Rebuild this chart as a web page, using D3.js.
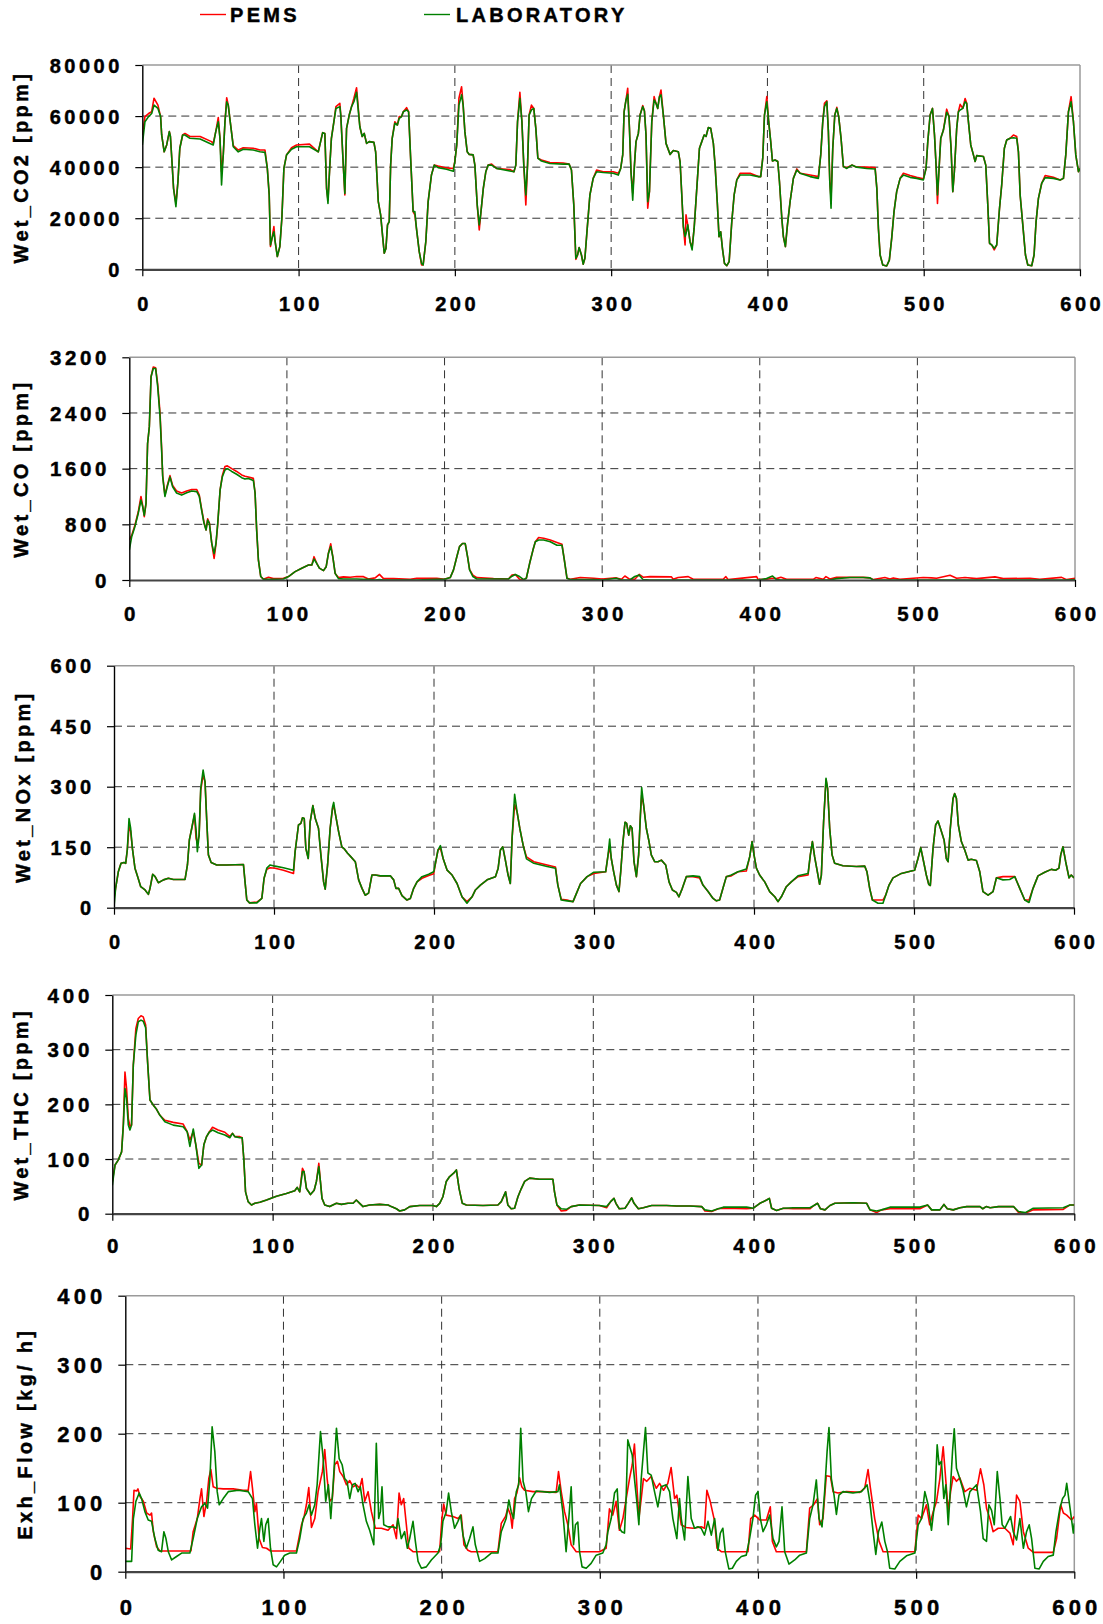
<!DOCTYPE html>
<html><head><meta charset="utf-8">
<script src="https://cdn.jsdelivr.net/npm/d3@7"></script>
<style>
body{margin:0;background:#fff}
svg{display:block}
text{font-family:"Liberation Sans",Arial,sans-serif;font-weight:bold;fill:#000;stroke:#000;stroke-width:0.45px}
</style>
</head><body>
<svg id="chart" width="1103" height="1624"></svg>
<script>
// ---------- DATA ----------
const seriesNames = ["PEMS", "LABORATORY"];
const xTicks = [0, 100, 200, 300, 400, 500, 600];
const co2Ticks = [0, 20000, 40000, 60000, 80000];
const coTicks = [0, 800, 1600, 2400, 3200];
const noxTicks = [0, 150, 300, 450, 600];
const thcTicks = [0, 100, 200, 300, 400];
const flowTicks = [0, 100, 200, 300, 400];

// [time s, PEMS, LABORATORY]
const co2Data = [[0,52600,48700],[1.7,59800,57800],[4,61000,59800],[6,61700,61000],[7.5,67000,64300],[10,64300,63000],[11.7,59800,59800],[12.4,52600,52600],[14,46000,46000],[15.6,48700,48700],[17.3,53900,53900],[18,52000,52000],[19,42000,42000],[20,31700,31700],[21.5,25800,24500],[22.8,34300,34300],[24,47400,47400],[25.8,52600,52600],[27.3,53200,52600],[30.5,52000,51300],[37,52000,51000],[44.3,50000,49000],[45.4,49300,48700],[47,53900,53900],[48.6,59400,57800],[49.7,51300,51300],[50.7,38200,33000],[51.8,44800,44800],[52.9,57800,57800],[54,67200,65600],[55,64300,64300],[56,59100,59100],[58.2,48400,48000],[61.4,46700,46000],[64.6,47600,47000],[71,47400,46700],[75.3,46700,46000],[78.5,46700,45800],[80,39500,39500],[81.2,29100,29100],[82,8900,9500],[83,12100,12100],[84.2,16700,14700],[85,10800,10800],[86.4,5000,5000],[88,8900,8900],[89.3,20000,20000],[90.6,39500,39500],[92.3,44800,44800],[95.5,47600,47000],[98.7,48700,48000],[107,49000,48000],[112.6,46000,46000],[115.4,53500,53500],[116.8,53200,53200],[117.9,31700,31700],[118.8,27100,25800],[120,40800,40800],[121,51300,51300],[122.6,57800,57800],[123.9,63700,63000],[126.4,65000,63700],[127,60400,60400],[128.6,40800,40800],[129.6,29100,29700],[130.7,55200,55200],[132.4,60400,60400],[133.9,63700,63700],[135.4,67000,65600],[137.1,71100,69300],[139.2,55800,55800],[140.7,52000,52000],[142,53200,53200],[143.5,49300,49300],[145.2,50000,50000],[148.2,49700,49700],[149.3,46000,46000],[151,26500,26500],[152.5,21300,21300],[153.7,13400,13400],[154.8,6300,6300],[155.9,8200,8200],[156.9,17400,17400],[158,18700,18700],[158.9,40800,40800],[159.9,51300,51300],[161.6,57800,57200],[163.2,56500,56500],[164.4,59800,59100],[165.9,59800,59800],[167,61700,61700],[169.1,63300,62400],[170.4,61700,61700],[171.6,44800,44800],[173.3,22600,22600],[174.4,21300,22600],[175.4,16100,16100],[177.2,6900,6900],[178.7,1700,2300],[179.7,1700,1700],[181.4,10800,10800],[182.9,26500,26500],[185,36900,36900],[186.8,40800,40800],[189.3,40400,39800],[194.7,39700,39200],[199,39500,38400],[200,42200,42200],[201.2,48700,48700],[202.6,67000,64300],[204.3,71500,68300],[205.3,64300,64300],[206.4,53900,53900],[207.9,46000,46000],[209.2,45000,45000],[211.7,44800,44800],[212.8,40800,40800],[214.3,25200,25200],[215.6,15400,17400],[216.5,21300,21300],[218.2,31700,31700],[219.8,38200,38200],[221.3,40800,40800],[223.5,41200,40800],[226.7,39500,39500],[235.2,39100,38500],[237.8,38200,38200],[239,40800,40800],[240.1,57800,57800],[241.6,69300,67000],[242.9,57800,57800],[244.1,40800,40800],[245.4,25200,29100],[246.5,40800,40800],[247.5,60400,60400],[249,64300,62400],[250.5,63000,63000],[251.8,55200,55200],[253.1,43500,43500],[255.4,42800,42400],[260.8,41800,41400],[269.3,41600,41200],[273.1,41200,41200],[274.6,38900,38900],[276.1,25200,25200],[277.4,3900,4300],[278.5,5600,5600],[279.5,8500,8500],[281,5600,5600],[282.1,2000,2000],[283.2,4300,4300],[284.7,16100,16100],[286.4,29100,29100],[288.5,35600,35600],[290.7,38900,38200],[294.9,38200,37900],[301.3,38200,37600],[304.6,37600,36900],[306.1,39500,39500],[307.4,44800,44800],[308.3,61700,61700],[309.5,66300,66300],[310.6,70900,68500],[311.7,55200,55200],[312.7,38200,38200],[313.8,29800,27100],[314.9,40800,40800],[315.9,50000,50000],[317.4,53200,53200],[318.5,60400,60400],[320.2,64100,63700],[321.3,62000,62000],[322.3,52600,52600],[323.4,23900,26500],[324.5,30400,30400],[326,57800,57800],[327.5,67600,66300],[328.7,65000,65000],[329.8,63000,63000],[330.9,67600,67600],[331.9,70200,68300],[333.4,60400,60400],[335.1,49300,49300],[337.7,45000,45000],[339.8,46500,46500],[343,46000,46000],[344.1,42200,42200],[345.2,29100,29100],[346.2,16700,16700],[347.3,9500,12800],[347.9,21300,14000],[349,17400,17400],[350.5,10800,10800],[351.8,8500,7600],[353.1,16100,16100],[354.8,31700,31700],[356.5,47400,47400],[358,50000,50000],[359.5,52600,52600],[360.7,52000,52000],[362.2,55500,55500],[363.7,55200,55200],[365.4,49300,49300],[366.5,40800,40800],[368,25200,25200],[369,12800,12800],[370.1,14700,14700],[371.2,8200,8200],[372.5,2300,2300],[374,1400,1400],[375.5,3000,3000],[377.2,18700,18700],[378.7,29100,29100],[380.4,35000,35000],[382.5,37600,36900],[388.9,37600,36900],[394.2,36300,36300],[395.7,36300,36300],[397,43500,43500],[398.1,60400,60400],[399.6,67600,65600],[400.8,57800,57800],[402.1,50000,50000],[403.2,42400,42400],[404.9,42800,42800],[406.6,42200,42200],[407.7,34300,34300],[409.2,20000,20000],[410.2,12800,12800],[411.5,8900,8900],[412.8,17400,17400],[414.5,26500,26500],[416.6,35600,35600],[418.8,39300,38900],[420.9,37600,37600],[427.3,36900,36300],[432.6,36300,35600],[434.1,44800,44800],[435.4,57800,57800],[436.5,65000,63700],[438,66000,65600],[439,53900,53900],[439.9,34300,34300],[440.7,27800,23900],[441.8,47400,47400],[443.1,60400,60400],[444.4,63400,63000],[445.6,59800,59800],[447.1,51300,51300],[448.6,40200,40200],[450.8,39800,39500],[454,40800,40800],[457.1,40000,40000],[463.6,40000,39500],[468.9,39800,39300],[470,31700,31700],[471,16100,16100],[472.1,5600,5600],[473.8,1700,1700],[476.3,1300,1300],[478,3600,3600],[479.5,12100,12100],[481,22600,22600],[482.7,30400,30400],[484.9,35600,35600],[487,37600,36900],[491.3,36700,36000],[495.5,36000,35600],[499.8,35400,35000],[501.5,39500,39500],[502.6,50000,50000],[504.1,60400,60400],[505.6,63000,63000],[506.9,52600,52600],[507.9,40800,40800],[508.8,25800,29100],[509.6,36900,36900],[510.9,51300,51300],[512.6,54500,54500],[514.7,62700,61500],[516.2,59800,59800],[517.5,47400,47400],[518.6,30400,30400],[519.6,38200,38200],[521.1,55200,55200],[522.2,61700,61700],[523.3,64600,62400],[525,63000,63000],[526.5,66900,65600],[527.5,65000,65000],[528.6,57800,57800],[530.1,48700,48700],[531.8,44800,44800],[532.9,42200,42200],[533.9,44500,44500],[538.2,44200,44200],[539.7,40800,40800],[541,25200,25200],[542.1,10200,10200],[543.6,9500,9500],[545.1,7600,8200],[546.7,9500,9500],[548.5,23900,23900],[549.9,33000,33000],[551.6,47400,47400],[553.1,50600,50600],[555.3,51300,51300],[557.4,52600,51500],[559.5,52000,51300],[560.6,46000,46000],[561.7,29100,29100],[563.4,17400,17400],[565.1,5600,5600],[566.6,1700,1700],[569.1,1400,1400],[570.6,5600,5600],[571.9,18700,18700],[573.4,27800,27800],[575.5,33700,33700],[577.7,36700,35900],[583,36000,35600],[587.3,35000,35000],[589.4,35600,35600],[590.9,44800,44800],[592.6,61700,61700],[594.3,67600,65600],[595.8,57800,57800],[597.3,44800,44800],[599,38200,38200],[600,39500,39500]];

const coData = [[0,575,430],[1.5,640,620],[3.6,790,770],[5.7,980,960],[7.4,1200,1150],[8.5,1070,1050],[9.5,910,930],[10.6,1100,1100],[11.6,1960,1960],[12.7,2200,2200],[13.8,2920,2920],[15.2,3060,3040],[16.7,3050,3040],[18,2820,2780],[19.5,2400,2350],[20.5,1900,1870],[21.2,1500,1480],[22.6,1220,1200],[24.1,1360,1340],[25.8,1500,1480],[27.5,1360,1340],[30,1280,1250],[33.2,1250,1220],[36.4,1280,1255],[39.6,1300,1280],[42.8,1300,1270],[44.4,1220,1200],[45.9,1020,1000],[47.4,830,815],[48.7,720,720],[49.7,880,860],[50.8,820,815],[52.3,530,530],[53.8,310,380],[55,520,530],[56.1,800,815],[57.6,1290,1290],[59,1500,1480],[60.7,1630,1580],[62.2,1640,1600],[65,1600,1560],[68.1,1560,1520],[71.3,1510,1470],[73.4,1490,1450],[75.6,1480,1460],[78.7,1460,1430],[79.8,1250,1250],[80.8,720,720],[81.9,290,290],[83.4,50,50],[85.1,10,10],[88.3,40,10],[91.4,20,10],[97.8,25,15],[101,50,50],[105.2,120,120],[109.4,170,170],[113.7,215,215],[115.8,215,215],[117.2,335,300],[118.9,240,240],[120.6,170,170],[123.2,135,135],[124.9,190,190],[126.3,380,380],[127.8,520,480],[129.1,335,335],[130.6,95,95],[132.7,35,20],[135.9,45,15],[140.1,40,15],[144.3,50,15],[148.6,48,10],[151.7,15,10],[156,30,0],[158.7,80,5],[161.3,20,0],[167.6,20,0],[178.2,10,0],[182.4,25,0],[195.1,25,10],[200,10,10],[203.6,35,35],[205.7,145,145],[207.8,335,335],[209.5,480,480],[211.4,525,525],[213.1,525,525],[214.6,335,335],[215.9,150,145],[218,70,50],[220.5,35,15],[231.1,20,15],[240.6,15,15],[242.8,70,55],[244.9,80,80],[247.6,10,50],[250.2,5,5],[251.9,25,25],[254,240,240],[256.1,430,430],[257.6,550,550],[259.7,610,575],[262.9,600,575],[267.1,575,550],[271.3,540,500],[274.5,515,500],[276,290,290],[277.7,25,25],[279.8,10,5],[286.1,35,5],[294.6,25,5],[300,15,0],[309,30,25],[312.3,10,0],[314.4,57,0],[317.6,10,0],[320.7,10,50],[323.5,80,70],[326,40,5],[330.3,48,0],[344,45,0],[345,10,0],[348.2,35,0],[354.6,48,0],[357.8,10,0],[376.8,10,0],[378.5,48,0],[380,5,0],[398,48,0],[399,5,0],[404.3,10,20],[408.1,25,57],[410.6,20,5],[413.4,38,0],[417,10,0],[433.9,10,0],[435.6,35,0],[440.3,10,0],[442,48,0],[444.5,15,0],[448.7,38,20],[457.2,38,35],[465.6,38,35],[469.9,30,30],[472,5,0],[479.4,35,0],[482.6,15,0],[484.7,30,0],[488.9,10,0],[503.7,35,0],[509,30,0],[512.2,25,0],[520.7,67,0],[524.9,25,0],[530.2,35,0],[537.6,20,0],[549.2,45,0],[554.5,20,0],[571.4,25,0],[577.7,10,0],[591.5,38,0],[594.7,5,0],[600,25,5]];

const noxData = [[0,23,2],[1,48,48],[2.7,89,89],[4.4,110,110],[6.3,112,112],[7.3,110,110],[8.3,143,143],[9.4,201,221],[10.4,190,197],[11.5,147,147],[13.1,98,98],[14.8,77,77],[16.7,52,52],[19.4,44,44],[21.5,33,33],[22.5,48,48],[24.2,83,83],[25.7,77,77],[27.7,62,62],[30.9,69,69],[34,73,73],[37.1,70,70],[44.4,70,70],[45.9,106,106],[47.1,168,168],[48.6,197,197],[50.3,230,234],[51.3,172,193],[52.1,160,139],[53.2,180,180],[54.2,290,296],[55.7,329,341],[56.9,312,312],[58,213,213],[59,131,131],[60.7,112,112],[64.2,106,106],[70.5,106,106],[80.9,107,107],[81.9,64,64],[83,19,19],[84.7,12,12],[89.3,14,12],[92.4,23,23],[93.8,73,73],[95.5,95,98],[97.6,99,106],[100.7,98,103],[105.9,93,99],[112.2,85,93],[113.2,139,139],[115.3,205,205],[116.8,209,209],[117.8,223,223],[118.9,221,221],[119.9,147,147],[121.4,122,122],[122.6,213,213],[124.3,253,253],[125.8,221,221],[127.8,197,197],[129.3,131,131],[131,64,64],[132,46,46],[133.5,106,106],[135.1,197,197],[136.6,246,250],[137.3,253,261],[138.3,234,234],[140.4,188,188],[142.4,151,151],[144.1,145,145],[146,135,135],[148.1,126,126],[150.8,114,114],[152.9,69,69],[155,48,48],[157,31,31],[159.1,36,36],[161.2,81,81],[163.3,81,81],[166.4,79,79],[172.7,79,79],[174.8,69,69],[176.2,48,48],[177.9,48,48],[180,30,30],[183.1,19,19],[185.2,23,23],[187.3,48,48],[189.4,64,64],[192.5,73,77],[196.7,80,83],[199.8,84,89],[201.3,118,118],[202.5,143,143],[204,147,154],[205.7,122,122],[208.2,93,93],[211.3,81,81],[214.4,60,60],[217.5,27,27],[220.6,15,11],[223.8,27,27],[225.9,44,44],[229,56,56],[233.2,69,69],[238.4,77,77],[240.1,98,98],[241.5,143,143],[243,151,151],[244.6,118,118],[246.3,81,81],[247.7,60,60],[248.8,172,172],[250.4,256,281],[251.9,238,238],[253.6,197,197],[255.7,155,155],[257.8,126,121],[262.4,114,110],[270.7,106,102],[275.9,101,98],[277.4,56,56],[279.5,21,19],[283.2,19,17],[286.9,15,15],[289.1,36,36],[291.6,60,60],[295.7,77,77],[299.9,85,88],[307.3,89,89],[308.8,131,131],[309.8,151,170],[310.8,122,122],[312.3,89,89],[314,56,56],[315.6,40,40],[316.7,89,89],[318.1,164,164],[319.4,212,212],[320.4,209,209],[321.7,180,180],[322.7,203,203],[323.8,197,197],[325,114,114],[326.5,77,77],[327.9,131,131],[329,230,230],[329.8,279,298],[331,255,255],[332.7,197,197],[334.4,164,164],[335.8,131,131],[337.9,114,114],[340,114,114],[342.1,118,118],[344.8,106,106],[346.9,64,64],[349,44,44],[351.5,38,38],[353.1,27,27],[355.2,48,48],[357.7,77,77],[361.9,77,79],[366,74,77],[368.1,56,56],[371.3,40,40],[374.4,23,23],[376.5,17,17],[378.5,19,19],[380.6,48,48],[382.7,77,77],[385.8,79,81],[390,89,89],[395.2,91,96],[397.3,126,126],[398.8,164,164],[400,131,131],[401.5,98,98],[403.5,81,81],[406.7,64,64],[409.8,40,40],[413,27,27],[415,15,15],[417.1,27,27],[420.2,52,52],[423.3,64,64],[427.5,77,79],[433.8,81,85],[435.2,131,131],[436.5,164,164],[437.9,126,126],[439.6,89,89],[441,58,58],[442.1,81,81],[443.5,213,213],[445,317,321],[446,296,296],[447.3,197,197],[448.8,131,131],[450.4,110,110],[455.6,104,104],[464,102,102],[469.2,103,103],[470.6,89,89],[472.3,48,48],[474,19,19],[477.5,19,11],[480.6,19,11],[482.3,31,31],[484.4,56,56],[486.9,74,74],[492.1,85,85],[498.3,91,91],[500.4,93,93],[502.5,122,122],[504.2,149,149],[505.6,122,122],[507.7,81,81],[509.2,58,58],[510.2,55,55],[511.9,147,147],[513.5,205,205],[515,215,215],[516.5,197,197],[518.8,168,168],[520.2,122,122],[521.3,114,114],[522.7,197,197],[524.4,271,271],[525.4,283,283],[526.5,271,271],[527.7,205,205],[529.6,164,164],[531.7,143,143],[533.8,118,118],[535.8,120,120],[539,117,117],[541.1,89,89],[543.1,40,40],[546.3,31,31],[549.4,40,40],[551.5,74,74],[555.6,77,69],[559.8,77,70],[563,77,77],[566.1,48,48],[569.2,19,19],[571.9,19,13],[574.4,48,48],[577.5,79,79],[581.7,88,88],[585.8,95,95],[588.5,93,93],[590.6,98,98],[591.7,131,131],[593.1,151,151],[594.8,114,114],[596.9,74,74],[598.3,81,81],[600,74,74]];

const thcData = [[0,59,52],[1.7,89,89],[3.7,98,98],[5.8,113,113],[6.9,165,162],[7.9,259,229],[8.9,229,211],[10,174,162],[11,160,153],[12,162,162],[13.1,272,272],[14.7,339,327],[16.2,357,351],[17.9,362,354],[19.3,360,352],[20.8,345,340],[22,278,278],[23.5,208,208],[25.5,199,199],[27.6,191,191],[29.7,180,180],[32.8,171,168],[38,167,162],[44.2,164,159],[46.7,150,150],[48.4,135,123],[50.5,150,155],[52.1,126,126],[54,92,83],[55.7,89,89],[57.1,126,126],[58.8,141,141],[60.4,149,149],[62.5,158,153],[66,153,148],[70.2,149,144],[73.3,141,139],[75,147,147],[76.4,141,141],[79.5,141,139],[81,139,139],[82,101,101],[83.1,40,40],[84.7,22,22],[86.8,16,16],[88.9,19,19],[92,21,21],[96.2,25,25],[102.4,32,32],[108.6,37,37],[113.8,42,42],[115.3,48,48],[116.9,40,40],[118.6,83,77],[119.6,77,77],[121.1,46,46],[123.6,35,35],[125.9,43,43],[127.3,59,59],[128.8,92,86],[129.8,59,59],[130.8,28,28],[132.5,16,16],[135.6,13,13],[139.8,19,19],[142.9,17,17],[147,19,19],[150.2,19,19],[152.2,25,25],[154.3,19,19],[156.4,13,13],[160.5,16,16],[166.8,17,17],[172,16,16],[174,13,13],[177.2,9,9],[179.2,5,5],[182.3,7,7],[185.5,13,13],[191.7,15,15],[200,15,15],[202.1,13,13],[204.2,19,19],[206.2,31,31],[208.3,59,59],[210.4,68,68],[212.9,74,74],[214.6,80,80],[216.3,46,46],[218.3,19,19],[220.8,16,16],[231.2,15,15],[240.5,16,16],[242.6,22,22],[245.3,40,40],[246.7,16,16],[248.8,9,9],[250.9,10,10],[253,31,31],[255.1,46,46],[257.2,59,59],[260.3,65,65],[266.5,63,63],[274.8,63,63],[275.8,40,40],[277.3,16,16],[280,5,9],[283.1,6,8],[286.2,13,13],[291.4,16,16],[303.8,15,15],[308.3,11,13],[310.8,22,22],[312.9,28,28],[314.1,19,19],[316.2,9,9],[319.8,10,10],[321.8,19,19],[323.9,29,29],[325.4,19,19],[328.1,9,9],[331.2,11,11],[336.4,15,15],[345.7,15,15],[352,14,14],[360.3,14,14],[367.6,13,13],[369.6,5,7],[373.8,4,5],[377.9,9,9],[381.1,10,12],[395.6,9,12],[399.8,10,10],[403.9,19,19],[408.1,25,25],[409.8,28,28],[411.2,10,10],[414.3,6,6],[418.5,10,10],[424.7,9,11],[435.1,9,11],[437.6,15,15],[439.9,19,19],[441.7,9,9],[444.5,7,7],[447.6,15,15],[450.7,19,19],[462.2,20,20],[470.5,19,19],[472.6,7,7],[476.7,2,5],[479.8,7,7],[485,9,12],[503.7,9,12],[508.5,16,16],[511,7,7],[516.2,7,7],[518.7,17,17],[520.8,9,9],[524.5,7,7],[528.7,11,11],[532.9,13,13],[541.2,13,13],[542.9,9,9],[545,13,13],[547.5,11,11],[552.7,13,13],[562.1,13,13],[565.2,2,4],[569.4,1,2],[574.4,7,10],[593.1,8,11],[597.3,16,16],[600,16,16]];

// [time s, value]
const flowPems = [[0,34],[3.4,33],[4.6,77],[5.5,118],[7.2,117],[8,120],[9.3,109],[11.4,102],[13.5,85],[15.6,82],[16.6,85],[17.7,58],[19.8,36],[21.9,30],[32.4,30],[41.5,30],[42.9,58],[45.5,77],[47.2,106],[48.2,120],[49.7,80],[51.4,102],[52.8,135],[54.1,148],[55.6,123],[57.7,121],[61.9,120],[68.2,120],[74.5,118],[77.7,118],[79.2,145],[80.4,121],[81.9,87],[82.9,99],[84.6,48],[86.7,35],[89.3,34],[91.8,30],[108.2,30],[111.4,68],[112.8,77],[114.5,97],[116,122],[117.7,64],[119.8,77],[121.9,116],[124.6,145],[126.1,177],[127.6,135],[129.3,102],[130.9,106],[132.4,155],[134.1,160],[135.6,145],[137.7,138],[139.8,126],[141.9,132],[144,123],[146.1,126],[148.2,121],[149.7,135],[151.4,102],[153.5,116],[155.6,87],[158.1,63],[161.9,63],[166.1,60],[169.3,68],[171.4,48],[173.1,114],[174.5,97],[176,106],[177.7,68],[179.2,34],[181.9,29],[198.7,29],[200.2,77],[201.3,98],[202.9,82],[207.2,80],[210.3,77],[212.4,82],[214.1,39],[216.6,31],[218.7,29],[235.6,29],[237.7,70],[240.4,80],[241.9,92],[243.6,82],[244.6,63],[246.1,106],[247.6,114],[249.3,136],[250.7,123],[252.4,118],[257.7,116],[264,116],[272.4,115],[273.9,145],[275.6,116],[277.7,87],[279.8,68],[281.9,39],[285.1,29],[299.8,29],[304,34],[306.1,91],[308.2,82],[310.3,102],[312.4,60],[314.6,77],[316.7,106],[318.8,135],[320.5,155],[321.9,185],[323.4,126],[324.7,77],[326.2,106],[327.6,135],[329.7,131],[332.5,138],[335.7,121],[337.8,128],[340.3,118],[343,128],[345.1,151],[347.3,106],[348.7,111],[351.5,68],[354.6,64],[358.9,63],[364.1,65],[366.2,63],[367.7,118],[369.8,102],[372.6,73],[374.1,34],[376.8,29],[393.7,29],[395.4,77],[397.9,82],[401.1,75],[405.3,75],[407.8,94],[409.1,44],[411.6,29],[430.6,29],[432.7,92],[435.2,97],[437.6,106],[439,68],[441.1,77],[443.2,139],[445.8,138],[447.5,116],[450.6,114],[455.9,116],[464.3,115],[467.5,121],[469.6,148],[471.1,121],[473.8,77],[476.6,44],[479.1,29],[499.2,29],[501.3,82],[503.4,77],[506.5,97],[508.6,68],[510.8,87],[512.9,102],[515,135],[517.1,181],[518.8,131],[520.3,87],[521.8,116],[523.4,138],[525.5,131],[527.6,136],[530.8,116],[534,121],[538.2,118],[540.7,149],[542.8,126],[544.5,92],[546.6,77],[548.7,58],[551.9,63],[556.1,63],[559.3,56],[561.4,39],[563.5,111],[565.6,102],[567.8,58],[570.9,34],[574.1,28],[586.7,28],[588.8,48],[591.4,97],[593.1,85],[595.2,82],[598.3,75],[600,80]];

const flowLab = [[0,15],[4,15],[5.1,77],[6.7,102],[8.8,114],[10.3,106],[12.4,87],[14.5,75],[16.6,73],[18.7,48],[20.8,31],[22.9,29],[24.4,58],[25.7,48],[27.2,29],[29.3,17],[32.4,22],[35.6,27],[40.8,27],[42.9,48],[45.5,77],[48.2,94],[50.3,99],[52,92],[53.5,135],[54.9,210],[56.6,174],[58.1,116],[59.4,97],[61.9,106],[65.1,116],[71.4,118],[77.7,116],[80.4,106],[81.9,68],[83.6,34],[85.1,63],[86.1,77],[87.6,44],[88.8,68],[90.3,77],[91.8,34],[93.5,10],[95.6,7],[98.1,15],[100.8,24],[104,27],[108.2,27],[110.3,48],[112.4,77],[114.5,85],[116.2,97],[117.7,82],[119.8,97],[121.3,126],[123.4,203],[125.1,164],[126.7,102],[128.4,126],[129.9,77],[131.4,126],[133.5,208],[135.2,164],[137.1,155],[138.7,135],[140.2,131],[141.9,106],[143.6,126],[145.3,128],[147.2,116],[148.6,123],[150.3,97],[152.4,73],[154.5,60],[157.1,39],[158.7,186],[160.2,77],[161.3,87],[162.3,123],[163.4,68],[166.1,65],[169.3,65],[171.4,63],[172.4,77],[174.5,48],[176.6,58],[178.3,34],[179.8,48],[181.9,73],[183.4,44],[185.1,15],[187.2,5],[190.3,7],[193.5,17],[197.7,27],[199.4,39],[200.8,73],[202.9,87],[204.4,114],[206.1,87],[208.2,63],[210.3,73],[212,82],[213.5,53],[215.6,34],[217.7,48],[219.8,65],[221.3,39],[224,15],[227.2,19],[231.4,27],[235.6,27],[237.7,58],[240.8,77],[242.5,104],[244,87],[245.5,77],[247.2,116],[248.7,126],[250,208],[251.5,131],[253.2,116],[254.9,87],[256.8,106],[259.8,117],[268.2,115],[273.5,116],[274.5,126],[276.6,87],[278.7,29],[280.4,77],[281.9,123],[283.4,39],[284.6,68],[286.1,72],[287.2,29],[288.8,7],[291.4,5],[294.5,12],[297.7,24],[301.9,27],[304,39],[305.1,58],[307.2,77],[309.3,114],[311,120],[312.4,63],[313.9,58],[315.6,56],[316.7,111],[317.7,191],[319.2,179],[320.5,169],[321.9,135],[323.4,102],[324.7,68],[326.2,135],[327.6,174],[328.9,209],[330.4,143],[332.5,140],[334.6,116],[336.7,94],[338.8,123],[342,126],[344.1,116],[346.2,77],[348.7,48],[350.4,106],[351.5,77],[353.6,46],[355.7,138],[357.8,77],[359.9,63],[362,65],[364.1,63],[366.2,53],[368.4,73],[370.5,53],[372.6,77],[374.7,31],[376.2,56],[377.8,63],[379.3,29],[381.6,4],[383.8,5],[386.3,15],[389.5,22],[392.6,24],[394.7,48],[396.8,77],[398.5,111],[400,116],[401.5,77],[403.2,58],[405.3,68],[407.4,82],[409.5,48],[411.6,36],[413.3,44],[415.2,94],[416.9,29],[419.6,11],[423.2,17],[426.4,24],[430.6,27],[432.7,77],[434.8,97],[436.9,133],[438.6,77],[440.5,65],[442.2,118],[443.7,174],[444.9,209],[446.4,135],[448.1,111],[449.6,83],[451.2,111],[453.8,116],[460.1,114],[465.4,116],[469,126],[470.7,102],[472.8,58],[474.5,25],[476.2,58],[478.3,72],[480.2,44],[481.9,29],[483.3,5],[486.5,4],[489.7,15],[493.9,23],[499.2,27],[501.3,68],[503.4,77],[505.5,116],[507.6,97],[509.7,60],[511.8,102],[513.3,184],[514.5,155],[516,160],[517.5,106],[518.8,126],[520.3,68],[521.8,126],[523,174],[524.1,207],[525.5,150],[527.6,135],[529.7,118],[531.8,94],[534,116],[536.1,121],[538.2,126],[540.7,87],[542.4,48],[544.5,44],[546,97],[547.7,89],[549.4,68],[551.3,145],[553,106],[554.4,68],[556.1,63],[558.2,73],[559.7,80],[561.4,58],[563.5,46],[565.6,77],[567.8,34],[569.8,58],[571.5,68],[573,48],[575.1,5],[577.8,4],[580.4,15],[583.5,22],[586.7,24],[588.4,58],[590.9,92],[592.6,106],[594.1,111],[595.2,128],[597.3,92],[599.4,56],[600,70]];

// ---------- LAYOUT ----------
const colors = {pems: "#ff0000", lab: "#008000"};
const panels = [
  {title: "Wet_CO2 [ppm]", pems: co2Data.map(d => [d[0], d[1]]), lab: co2Data.map(d => [d[0], d[2]]), ticks: co2Ticks,
   left: 142.3, right: 1080, top: 65, bottom: 269.3, fs: 20, ls: 3.5, labelY: 304.5, titleX: 21},
  {title: "Wet_CO [ppm]", pems: coData.map(d => [d[0], d[1]]), lab: coData.map(d => [d[0], d[2]]), ticks: coTicks,
   left: 129.3, right: 1075, top: 357.3, bottom: 580, fs: 20.5, ls: 3.6, labelY: 614, titleX: 21},
  {title: "Wet_NOx [ppm]", pems: noxData.map(d => [d[0], d[1]]), lab: noxData.map(d => [d[0], d[2]]), ticks: noxTicks,
   left: 114, right: 1074, top: 665.7, bottom: 907.7, fs: 20, ls: 3.6, labelY: 942.5, titleX: 23},
  {title: "Wet_THC [ppm]", pems: thcData.map(d => [d[0], d[1]]), lab: thcData.map(d => [d[0], d[2]]), ticks: thcTicks,
   left: 112.3, right: 1074.3, top: 995, bottom: 1213.7, fs: 20.5, ls: 3.8, labelY: 1246, titleX: 21},
  {title: "Exh_Flow  [kg/ h]", pems: flowPems, lab: flowLab, ticks: flowTicks,
   left: 125.3, right: 1074.3, top: 1295.7, bottom: 1571.7, fs: 22, ls: 4.2, labelY: 1607.5, titleX: 25}
];

const svg = d3.select("#chart");
svg.append("rect").attr("width", 1103).attr("height", 1624).attr("fill", "#fff");

// legend
const legend = [
  {name: seriesNames[0], color: colors.pems, x1: 200, x2: 226, tx: 230},
  {name: seriesNames[1], color: colors.lab, x1: 424, x2: 450, tx: 456}
];
legend.forEach(l => {
  svg.append("line").attr("x1", l.x1).attr("x2", l.x2).attr("y1", 14.5).attr("y2", 14.5)
    .attr("stroke", l.color).attr("stroke-width", 1.4);
  svg.append("text").attr("x", l.tx).attr("y", 15).attr("dy", "0.35em")
    .style("font-size", "20px").style("letter-spacing", "3.3px").text(l.name);
});

panels.forEach((p, i) => {
  const x = d3.scaleLinear().domain([0, 600]).range([p.left, p.right]);
  const y = d3.scaleLinear().domain([0, p.ticks[p.ticks.length - 1]]).range([p.bottom, p.top]);
  const g = svg.append("g");

  // grid
  g.selectAll(".hg").data(p.ticks.slice(1, -1)).join("line")
    .attr("x1", p.left).attr("x2", p.right).attr("y1", d => y(d)).attr("y2", d => y(d))
    .attr("stroke", "#333").attr("stroke-width", 1).attr("stroke-dasharray", "8,5");
  g.selectAll(".vg").data(xTicks.slice(1, -1)).join("line")
    .attr("y1", p.top).attr("y2", p.bottom).attr("x1", d => x(d)).attr("x2", d => x(d))
    .attr("stroke", "#333").attr("stroke-width", 1).attr("stroke-dasharray", "8,5");

  // top & right frame
  g.append("line").attr("x1", p.left).attr("x2", p.right).attr("y1", p.top).attr("y2", p.top)
    .attr("stroke", "#9a9a9a").attr("stroke-width", 1.5);
  g.append("line").attr("x1", p.right).attr("x2", p.right).attr("y1", p.top).attr("y2", p.bottom)
    .attr("stroke", "#9a9a9a").attr("stroke-width", 1.5);

  // series
  const clipId = "clip" + i;
  svg.append("clipPath").attr("id", clipId).append("rect")
    .attr("x", p.left).attr("y", p.top - 1).attr("width", p.right - p.left).attr("height", p.bottom - p.top + 1);
  const line = d3.line().x(d => x(d[0])).y(d => y(d[1]));
  g.append("path").datum(p.pems).attr("d", line).attr("fill", "none")
    .attr("stroke", colors.pems).attr("stroke-width", 1.6).attr("stroke-linejoin", "round").attr("clip-path", `url(#${clipId})`);
  g.append("path").datum(p.lab).attr("d", line).attr("fill", "none")
    .attr("stroke", colors.lab).attr("stroke-width", 1.6).attr("stroke-linejoin", "round").attr("clip-path", `url(#${clipId})`);

  // axes
  const ya = g.append("g").attr("transform", `translate(${p.left},0)`)
    .call(d3.axisLeft(y).tickValues(p.ticks).tickSize(7).tickSizeOuter(0).tickFormat(d3.format("d")));
  ya.select(".domain").attr("stroke", "#000").attr("stroke-width", 1.4);
  ya.selectAll(".tick line").attr("stroke", "#000").attr("stroke-width", 1.2);
  ya.selectAll("text").attr("x", -23 + p.ls).attr("dy", "0.35em").attr("fill", "#000")
    .style("font-size", p.fs + "px").style("letter-spacing", p.ls + "px")
    .style("font-family", "'Liberation Sans', Arial, sans-serif").style("font-weight", "bold");

  const xa = g.append("g").attr("transform", `translate(0,${p.bottom})`)
    .call(d3.axisBottom(x).tickValues(xTicks).tickSize(7).tickSizeOuter(0).tickFormat(d3.format("d")));
  xa.select(".domain").attr("stroke", "#444").attr("stroke-width", 2.2);
  xa.selectAll(".tick line").attr("stroke", "#000").attr("stroke-width", 1.2);
  xa.selectAll("text").attr("y", p.labelY - p.bottom).attr("dy", "0.35em").attr("dx", p.ls / 2).attr("fill", "#000")
    .style("font-size", p.fs + "px").style("letter-spacing", p.ls + "px")
    .style("font-family", "'Liberation Sans', Arial, sans-serif").style("font-weight", "bold");

  // y title
  const cy = (p.top + p.bottom) / 2;
  g.append("text").attr("transform", `translate(${p.titleX},${cy}) rotate(-90)`)
    .attr("text-anchor", "middle").attr("dy", "0.35em")
    .style("font-size", "20px").style("letter-spacing", "3.3px").text(p.title);
});
</script>
</body></html>
